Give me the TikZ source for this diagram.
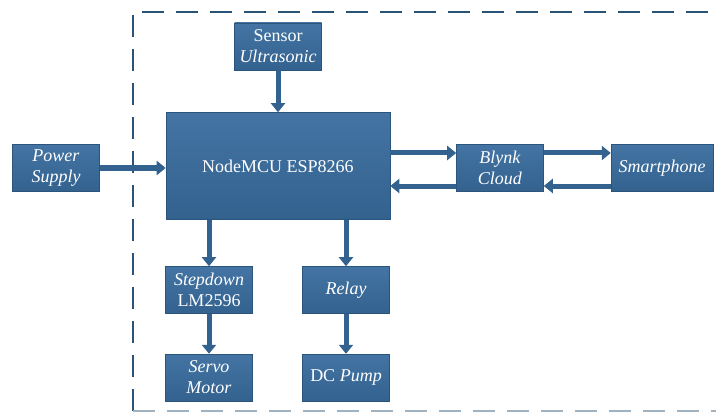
\documentclass[tikz,border=0pt]{standalone}
\usepackage{fontspec}
\setmainfont{Liberation Serif}
\usepackage{tikz}
\usetikzlibrary{arrows.meta,positioning,calc}
\usepackage{xcolor}
\definecolor{boxtop}{HTML}{4474A3}
\definecolor{boxbot}{HTML}{33628F}
\definecolor{boxedge}{HTML}{2C557D}
\definecolor{framecol}{HTML}{2A5477}

\begin{document}
\begin{tikzpicture}[x=1pt, y=-1pt,
    block/.style={rectangle, draw=boxedge, line width=0.6pt, top color=boxtop, bottom color=boxbot, text=white, align=center, inner sep=0pt, font=\fontsize{18}{21}\selectfont},
    small/.style={block, minimum width=87pt, minimum height=47pt},
    arrow/.style={-{Triangle[length=9pt,width=14pt]}, line width=5pt, draw=boxbot}
  ]
    \useasboundingbox (0,0) rectangle (716,412);
    % system frame
    \draw[framecol, line width=2.8pt, dash pattern=on 22pt off 12pt] (133,411) -- (133,12) -- (740,12);
    \draw[framecol!45, line width=2.8pt, dash pattern=on 22pt off 12pt] (133,411) -- (740,411);

    \node[block, minimum width=224pt, minimum height=107pt] (mcu) at (278,166) {NodeMCU ESP8266};
    \node[small, above=42pt of mcu] (sensor) {Sensor\\\textit{Ultrasonic}};
    \node[small] (power) at (56,168) {\textit{Power}\\\textit{Supply}};
    \node[small] (blynk) at (500,168) {\textit{Blynk}\\\textit{Cloud}};
    \node[small, minimum width=102pt, right=67pt of blynk] (phone) {\textit{Smartphone}};
    \node[small] (stepdown) at (209,290) {\textit{Stepdown}\\LM2596};
    \node[small] (relay) at (346,290) {\textit{Relay}};
    \node[small, below=40pt of stepdown] (servo) {\textit{Servo}\\\textit{Motor}};
    \node[small, below=40pt of relay] (pump) {DC \textit{Pump}};

    \draw[arrow] (sensor) -- (mcu);
    \draw[arrow] (power.east) -- (power.east -| mcu.west);
    \draw[arrow] ([yshift=15pt]blynk.west -| mcu.east) -- ([yshift=15pt]blynk.west);
    \draw[arrow] ([yshift=-18pt]blynk.west) -- ([yshift=-18pt]blynk.west -| mcu.east);
    \draw[arrow] ([yshift=15pt]blynk.east) -- ([yshift=15pt]phone.west);
    \draw[arrow] ([yshift=-18pt]phone.west) -- ([yshift=-18pt]blynk.east);
    \draw[arrow] (mcu.south -| stepdown) -- (stepdown);
    \draw[arrow] (mcu.south -| relay) -- (relay);
    \draw[arrow] (stepdown) -- (servo);
    \draw[arrow] (relay) -- (pump);
  \end{tikzpicture}
\end{document}
